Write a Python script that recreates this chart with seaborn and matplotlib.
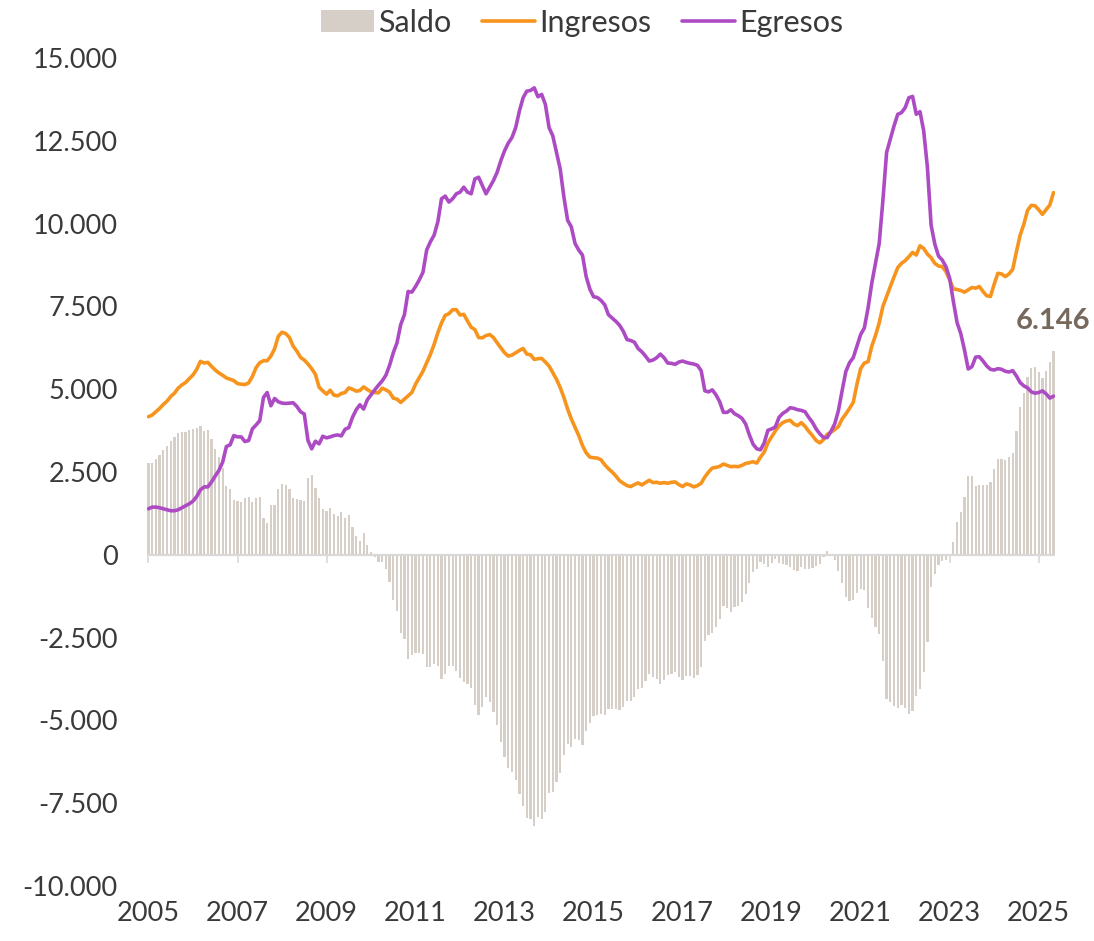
import matplotlib
matplotlib.use("Agg")
import matplotlib.pyplot as plt
from matplotlib.patches import Patch
from matplotlib.lines import Line2D
from matplotlib.ticker import FuncFormatter
import numpy as np
import pandas as pd
import seaborn as sns

# Monthly values, Jan 2005 - May 2025
ingresos = [
    4170, 4220, 4320, 4420, 4540, 4640, 4780, 4880, 5030, 5130, 5200, 5320,   # 2005
    5430, 5600, 5840, 5790, 5810, 5690, 5580, 5490, 5420, 5340, 5300, 5260,   # 2006
    5170, 5150, 5140, 5190, 5380, 5650, 5800, 5860, 5860, 6000, 6220, 6600,   # 2007
    6720, 6680, 6560, 6300, 6150, 5960, 5880, 5760, 5620, 5450, 5060, 4950,   # 2008
    4850, 4970, 4820, 4800, 4870, 4900, 5040, 5000, 4940, 4960, 5070, 4990,   # 2009
    4920, 4900, 4890, 5030, 4980, 4910, 4730, 4700, 4600, 4700, 4800, 4900,   # 2010
    5150, 5350, 5540, 5800, 6050, 6350, 6700, 7000, 7230, 7280, 7400, 7400,   # 2011
    7240, 7260, 7060, 6870, 6800, 6560, 6550, 6620, 6650, 6560, 6400, 6250,   # 2012
    6100, 6000, 6030, 6100, 6170, 6230, 6060, 6040, 5900, 5920, 5930, 5820,   # 2013
    5700, 5500, 5300, 5050, 4750, 4400, 4100, 3850, 3600, 3300, 3080, 2950,   # 2014
    2930, 2920, 2870, 2720, 2600, 2500, 2380, 2240, 2160, 2090, 2060, 2120,   # 2015
    2170, 2110, 2180, 2250, 2180, 2190, 2160, 2180, 2160, 2190, 2200, 2120,   # 2016
    2060, 2140, 2110, 2050, 2090, 2160, 2350, 2500, 2620, 2640, 2670, 2740,   # 2017
    2700, 2660, 2670, 2660, 2700, 2760, 2780, 2810, 2770, 2950, 3100, 3380,   # 2018
    3560, 3740, 3890, 3990, 4040, 4060, 3950, 3900, 3990, 3880, 3730, 3600,   # 2019
    3450, 3380, 3480, 3640, 3700, 3780, 3870, 4100, 4250, 4420, 4600, 5150,   # 2020
    5620, 5790, 5830, 6300, 6620, 7000, 7500, 7800, 8100, 8390, 8670, 8800,   # 2021
    8880, 9000, 9130, 9050, 9330, 9250, 9080, 8970, 8800, 8720, 8700, 8550,   # 2022
    8300, 8030, 8010, 7980, 7930, 8000, 8070, 8050, 8100, 7950, 7820, 7800,   # 2023
    8170, 8500, 8480, 8400, 8480, 8620, 9150, 9650, 9980, 10400, 10550, 10540,  # 2024
    10420, 10280, 10420, 10560, 10936,                                         # 2025
]
egresos = [
    1390, 1440, 1440, 1420, 1390, 1360, 1330, 1330, 1360, 1420, 1480, 1540,   # 2005
    1620, 1760, 1960, 2050, 2050, 2200, 2380, 2550, 2800, 3270, 3320, 3600,   # 2006
    3560, 3560, 3420, 3450, 3800, 3920, 4050, 4750, 4900, 4500, 4720, 4620,   # 2007
    4580, 4570, 4580, 4590, 4480, 4320, 4250, 3450, 3200, 3430, 3350, 3580,   # 2008
    3530, 3560, 3600, 3620, 3590, 3790, 3840, 4150, 4380, 4530, 4400, 4680,   # 2009
    4830, 4980, 5120, 5250, 5420, 5720, 6100, 6400, 6950, 7250, 7950, 7930,   # 2010
    8100, 8300, 8530, 9200, 9450, 9650, 10050, 10750, 10830, 10650, 10750, 10900,  # 2011
    10950, 11100, 10950, 10900, 11350, 11400, 11150, 10900, 11100, 11300, 11550, 11900,  # 2012
    12200, 12430, 12600, 12900, 13400, 13800, 14000, 14020, 14100, 13830, 13900, 13600,  # 2013
    12900, 12650, 12150, 11650, 10800, 10100, 9900, 9400, 9200, 9050, 8400, 8020,  # 2014
    7790, 7770, 7680, 7550, 7250, 7150, 7050, 6930, 6750, 6500, 6470, 6420,   # 2015
    6230, 6130, 6000, 5850, 5880, 5950, 6060, 5950, 5790, 5780, 5750, 5820,   # 2016
    5850, 5810, 5780, 5760, 5720, 5560, 4950, 4920, 4980, 4830, 4620, 4300,   # 2017
    4300, 4380, 4260, 4200, 4120, 3950, 3620, 3340, 3200, 3170, 3380, 3760,   # 2018
    3800, 3860, 4150, 4270, 4340, 4440, 4420, 4380, 4360, 4320, 4150, 4000,   # 2019
    3800, 3650, 3540, 3540, 3730, 3950, 4350, 4950, 5530, 5800, 5950, 6300,   # 2020
    6650, 6850, 7450, 8200, 8800, 9400, 10700, 12150, 12550, 12950, 13300, 13350,  # 2021
    13500, 13800, 13840, 13300, 13380, 12800, 11700, 9950, 9380, 9020, 8900, 8700,  # 2022
    8350, 7650, 7010, 6680, 6180, 5610, 5680, 5970, 5980, 5850, 5700, 5600,   # 2023
    5580, 5620, 5600, 5540, 5520, 5560, 5400, 5200, 5100, 5040, 4920, 4880,   # 2024
    4900, 4950, 4860, 4730, 4790,                                             # 2025
]
years = [str(y) for y in range(2005, 2026, 2)]

# Saldo = Ingresos - Egresos
saldo = [i - e for i, e in zip(ingresos, egresos)]

df = pd.DataFrame({"mes": np.arange(len(ingresos)), "Ingresos": ingresos,
                   "Egresos": egresos, "Saldo": saldo})

sns.set_style("white")
plt.rcParams["font.family"] = ["Lato", "DejaVu Sans"]

c_bar = "#D6CFC7"
c_ing = "#F7941D"
c_egr = "#AD4BC4"
c_txt = "#3A3A3A"

fig = plt.figure(figsize=(10.94, 9.41), dpi=100)
ax = fig.add_axes([147 / 1094, 1 - 886 / 941, (1055 - 147) / 1094, (886 - 58) / 941])

ax.bar(df["mes"], df["Saldo"], width=0.6, color=c_bar, linewidth=0, zorder=1)
ax.axhline(0, color="#D9D9D9", lw=1.6, zorder=2)
sns.lineplot(data=df, x="mes", y="Ingresos", color=c_ing, lw=2.6, ax=ax, zorder=3)
sns.lineplot(data=df, x="mes", y="Egresos", color=c_egr, lw=2.6, ax=ax, zorder=4)

ax.set_xlim(-0.4, len(ingresos) - 0.6)
ax.set_ylim(-10000, 15000)
ax.set_yticks(range(-10000, 15001, 2500))
ax.yaxis.set_major_formatter(FuncFormatter(lambda v, p: f"{v:,.0f}".replace(",", ".")))
ax.set_xticks(range(0, 241, 24))
ax.set_xticklabels(years)
ax.set_xlabel("")
ax.set_ylabel("")
ax.tick_params(axis="y", length=0, pad=21, labelsize=19.5, labelcolor=c_txt)
ax.tick_params(axis="x", length=0, pad=11, labelsize=19.5, labelcolor=c_txt)
for s in ax.spines.values():
    s.set_visible(False)

# tick marks on the zero line
zero_pos = (0 - ax.get_ylim()[0]) / (ax.get_ylim()[1] - ax.get_ylim()[0])
secax = ax.secondary_xaxis(zero_pos)
secax.set_xticks(range(0, 241, 24))
secax.set_xticklabels([])
secax.tick_params(length=6, width=1.2, color="#D9D9D9")
secax.spines["bottom"].set_visible(False)
secax.spines["top"].set_visible(False)

last = df.iloc[-1]
ax.annotate(f"{int(last['Saldo']):,}".replace(",", "."), xy=(last["mes"], last["Saldo"]),
            xytext=(0, 22), textcoords="offset points", ha="center", va="center",
            fontsize=21, fontweight="bold", color="#76685B")

handles = [Patch(facecolor=c_bar, edgecolor="none"),
           Line2D([], [], color=c_ing, lw=2.6),
           Line2D([], [], color=c_egr, lw=2.6)]
fig.legend(handles, ["Saldo", "Ingresos", "Egresos"], loc="center",
           bbox_to_anchor=(0.532, 0.976), ncol=3, frameon=False, fontsize=22,
           handlelength=1.75, handleheight=0.7, handletextpad=0.12,
           columnspacing=1.0, labelcolor=c_txt)

fig.savefig("out.png", dpi=100)
